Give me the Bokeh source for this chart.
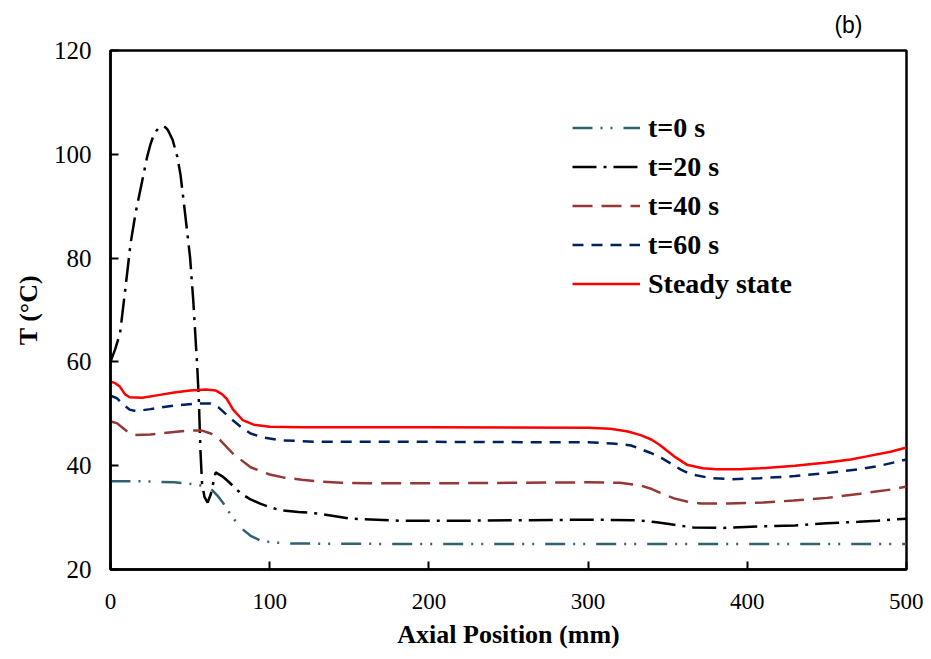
from bokeh.plotting import figure
from bokeh.models import Legend, LegendItem, Title, Range1d, FixedTicker
from bokeh.embed import file_html
from bokeh.resources import INLINE

# ---- data ----
x_t0 = [0, 20, 40, 50, 57, 63, 67, 71, 76, 82, 88, 94, 102, 115, 200, 300, 400, 500]
y_t0 = [37.0, 37.0, 36.8, 36.5, 36.2, 35.6, 34.3, 32.7, 30.3, 28.0, 26.5, 25.6, 25.2, 25.0, 24.9, 24.9, 24.9, 24.9]

x_t20 = [0, 3, 6, 9.4, 12.6, 15.7, 20, 23, 25, 27, 29, 30.5, 32.5, 34.5, 36, 39, 42, 44, 47, 50, 52, 54.5,
         55.5, 56.5, 57.5, 59, 61, 63, 66, 70, 73.5, 78, 82, 88, 94, 100, 107, 118, 130, 151, 182, 220, 300,
         330, 343, 352, 366, 385, 408, 430, 450, 470, 482, 500]
y_t20 = [60, 62.5, 65.5, 74.3, 82.8, 88.6, 95, 99.5, 101.8, 103.6, 104.6, 105.1, 105.4, 105.2, 104.7, 102.8,
         99.5, 96.0, 88.2, 80.1, 71.8, 59, 52.6, 42.9, 36.6, 34.0, 32.9, 34.5, 38.7, 38.0, 37.1, 35.8, 34.6,
         33.5, 32.7, 32.0, 31.4, 31.1, 30.8, 29.8, 29.4, 29.4, 29.6, 29.5, 29.1, 28.7, 28.1, 28.0, 28.3, 28.5,
         28.9, 29.2, 29.4, 29.8]

x_t40 = [0, 4, 8, 12, 15, 25, 40, 50, 57, 63, 69, 77, 88, 94, 100, 109, 120, 130, 145, 161, 200, 300, 320,
         333, 340, 345, 350, 354, 362, 371, 388, 410, 429, 450, 471, 490, 500]
y_t40 = [48.5, 48.2, 47.2, 46.2, 45.9, 46.0, 46.5, 46.8, 46.8, 46.2, 44.9, 42.3, 39.7, 39.0, 38.3, 37.7, 37.3,
         37.0, 36.7, 36.6, 36.6, 36.8, 36.7, 36.2, 35.5, 34.8, 34.2, 33.7, 33.1, 32.7, 32.7, 32.9, 33.3, 33.8,
         34.6, 35.4, 36.0]

x_t60 = [0, 4, 8, 12, 16, 25, 40, 55, 63, 68, 73, 77, 83, 88, 95, 107, 130, 200, 300, 315, 327, 339, 346,
         352, 358, 364, 377, 390, 408, 430, 450, 470, 482, 500]
y_t60 = [53.5, 53.0, 51.8, 50.8, 50.5, 50.9, 51.6, 52.0, 52.0, 51.2, 49.8, 48.7, 47.2, 46.2, 45.5, 44.9, 44.6,
         44.6, 44.5, 44.3, 43.9, 42.5, 41.5, 40.4, 39.3, 38.4, 37.6, 37.4, 37.6, 38.0, 38.6, 39.3, 39.9, 41.2]

x_ss = [0, 3, 6, 9, 12, 20, 30, 40, 50, 60, 66, 70, 73, 77, 83, 90, 100, 120, 200, 300, 314, 325, 333, 340,
        345, 350, 355, 362, 372, 381, 395, 408, 430, 450, 465, 475, 490, 500]
y_ss = [56.2, 55.9, 55.2, 53.8, 53.2, 53.1, 53.6, 54.1, 54.5, 54.7, 54.5, 53.8, 52.9, 50.8, 48.8, 47.9, 47.5,
        47.4, 47.4, 47.3, 47.1, 46.6, 45.9, 45.0, 44.0, 42.8, 41.6, 40.2, 39.5, 39.3, 39.3, 39.5, 40.0, 40.6,
        41.2, 41.8, 42.7, 43.5]

series_labels = ["t=0 s", "t=20 s", "t=40 s", "t=60 s", "Steady state"]
x_ticks = [0, 100, 200, 300, 400, 500]
y_ticks = [20, 40, 60, 80, 100, 120]

SERIF = "Liberation Serif"

p = figure(width=923, height=651, output_backend="svg", toolbar_location=None,
           x_range=Range1d(0, 500), y_range=Range1d(20, 120),
           min_border_left=110, min_border_right=17, min_border_top=50, min_border_bottom=82)
p.background_fill_color = "white"
p.border_fill_color = "white"
p.xgrid.visible = False
p.ygrid.visible = False
p.outline_line_color = "black"
p.outline_line_width = 2.5

for ax in (p.xaxis[0], p.yaxis[0]):
    ax.axis_line_width = 2.5
    ax.axis_line_color = "black"
    ax.major_tick_in = 8
    ax.major_tick_out = 0
    ax.major_tick_line_width = 2
    ax.minor_tick_line_color = None
    ax.major_label_text_font = SERIF
    ax.major_label_text_color = "black"
    ax.axis_label_text_font = SERIF
    ax.axis_label_text_font_style = "bold"
    ax.axis_label_text_font_size = "26px"
    ax.axis_label_text_color = "black"

p.xaxis.ticker = FixedTicker(ticks=x_ticks)
p.yaxis.ticker = FixedTicker(ticks=y_ticks)
p.xaxis.major_label_text_font_size = "23px"
p.yaxis.major_label_text_font_size = "25px"
p.xaxis.major_label_standoff = 24
p.yaxis.major_label_standoff = 19
p.xaxis.axis_label = "Axial Position (mm)"
p.yaxis.axis_label = "T (°C)"
p.xaxis.axis_label_standoff = 8
p.yaxis.axis_label_standoff = 8

r0 = p.line(x_t0, y_t0, line_color="#31626F", line_width=2.5, line_dash="20 8 2 8 2 11")
r20 = p.line(x_t20, y_t20, line_color="black", line_width=2.5, line_dash="24 7 3 7")
r40 = p.line(x_t40, y_t40, line_color="#953735", line_width=2.5, line_dash="20 9")
r60 = p.line(x_t60, y_t60, line_color="#002060", line_width=2.5, line_dash="11 8")
rss = p.line(x_ss, y_ss, line_color="#FF0000", line_width=2.5)

legend = Legend(items=[LegendItem(label=l, renderers=[r]) for l, r in
                       zip(series_labels, [r0, r20, r40, r60, rss])],
                location=(462, 266), padding=0, margin=0, spacing=0,
                glyph_width=68, glyph_height=39, label_height=39, label_standoff=8,
                label_text_font=SERIF, label_text_font_style="bold",
                label_text_font_size="28px", label_text_color="black",
                border_line_color=None, background_fill_alpha=0)
p.add_layout(legend, "center")

tag = Title(text="(b)", align="right", offset=44, standoff=22, vertical_align="top",
            text_font="Liberation Sans", text_font_size="23px",
            text_font_style="normal", text_color="black")
p.add_layout(tag, "above")

open("out.html", "w").write(file_html(p, INLINE))
